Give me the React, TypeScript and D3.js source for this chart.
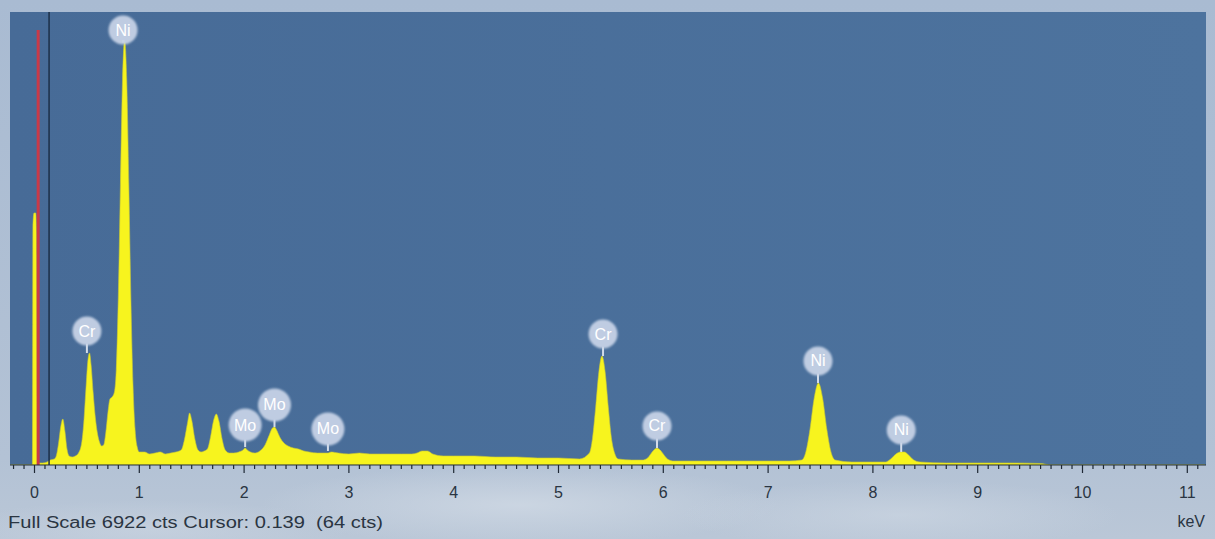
import React from "react";
import * as d3 from "d3";

// ---- data ----
const FULL_SCALE = 6922;
const CURSOR_KEV = 0.139;
const CURSOR_CTS = 64;
const NOISE_MARK_KEV = 0.035;

const energy = [
  -0.23, -0.02, -0.015, -0.005, 0.012, 0.02, 0.026, 0.04, 0.08, 0.12, 0.15, 0.19, 0.21, 0.23, 0.25, 0.27, 0.29, 0.31, 0.33, 0.36,
  0.39, 0.42, 0.45, 0.47, 0.49, 0.51, 0.525, 0.54, 0.56, 0.58, 0.6, 0.62, 0.64, 0.66, 0.68, 0.7, 0.72, 0.74, 0.76, 0.78,
  0.8, 0.82, 0.84, 0.86, 0.88, 0.9, 0.92, 0.94, 0.96, 0.98, 1.0, 1.05, 1.1, 1.15, 1.2, 1.25, 1.3, 1.35, 1.4, 1.43,
  1.46, 1.48, 1.5, 1.53, 1.56, 1.59, 1.62, 1.65, 1.68, 1.71, 1.735, 1.76, 1.79, 1.82, 1.86, 1.9, 1.95, 1.99, 2.01, 2.03,
  2.06, 2.1, 2.15, 2.2, 2.24, 2.27, 2.29, 2.31, 2.34, 2.38, 2.42, 2.47, 2.52, 2.57, 2.62, 2.7, 2.8, 2.83, 2.9, 3.0,
  3.1, 3.2, 3.3, 3.4, 3.5, 3.6, 3.65, 3.7, 3.75, 3.8, 3.9, 4.0, 4.2, 4.4, 4.6, 4.8, 5.0, 5.2, 5.295, 5.325,
  5.355, 5.385, 5.415, 5.445, 5.475, 5.505, 5.535, 5.57, 5.7, 5.8, 5.85, 5.88, 5.91, 5.94, 5.97, 6.0, 6.04, 6.1, 6.3, 6.6,
  6.9, 7.2, 7.32, 7.36, 7.4, 7.44, 7.48, 7.52, 7.56, 7.6, 7.64, 7.8, 8.0, 8.12, 8.17, 8.22, 8.26, 8.3, 8.34, 8.39,
  8.45, 8.7, 9.0, 9.3, 9.6, 9.7, 11.17,
];
const counts = [
  0, 0, 3667, 3851, 3851, 3514, 0, 31, 31, 46, 76, 92, 153, 336, 581, 703, 520, 244, 138, 122,
  138, 183, 336, 642, 1146, 1604, 1711, 1528, 1100, 733, 489, 351, 290, 306, 489, 795, 1008, 1039, 1100, 1452,
  2598, 4278, 5883, 6494, 5883, 4278, 2521, 1222, 535, 275, 199, 199, 168, 183, 199, 168, 183, 199, 229, 382,
  642, 795, 688, 397, 229, 199, 214, 244, 428, 688, 779, 672, 397, 229, 183, 183, 199, 229, 260, 229,
  199, 183, 214, 306, 458, 565, 581, 535, 428, 336, 290, 260, 244, 214, 199, 183, 183, 199, 183, 168,
  183, 168, 168, 168, 168, 168, 183, 214, 214, 168, 138, 138, 138, 122, 122, 107, 107, 92, 183, 413,
  886, 1421, 1665, 1421, 886, 413, 183, 92, 76, 76, 107, 168, 229, 260, 229, 168, 92, 61, 61, 61,
  61, 61, 76, 199, 550, 1024, 1253, 1024, 550, 199, 76, 46, 46, 46, 92, 168, 199, 199, 153, 76,
  46, 31, 31, 31, 23, 0, 0,
];

const labelElements = ["Ni", "Cr", "Mo", "Mo", "Mo", "Cr", "Cr", "Ni", "Ni"];
const labelEnergies = [0.845, 0.5, 2.01, 2.29, 2.8, 5.425, 5.94, 7.476, 8.27];
const labelCounts = [6494, 1711, 275, 581, 214, 1665, 260, 1253, 199];

const tickLabels = ["0", "1", "2", "3", "4", "5", "6", "7", "8", "9", "10", "11"];

// ---- layout ----
const W = 1215;
const H = 539;
const PLOT = { left: 10, right: 1206, top: 12, bottom: 465 };

export default function App() {
  const x = d3.scaleLinear().domain([0, 11]).range([34.5, 1187.3]);
  const y = d3.scaleLinear().domain([0, FULL_SCALE]).range([PLOT.bottom, PLOT.top]);

  const pts = energy.map((e, i) => ({ e, c: counts[i] }));
  const area = d3
    .area<{ e: number; c: number }>()
    .x((d) => x(d.e))
    .y0(PLOT.bottom)
    .y1((d) => y(d.c))
    .curve(d3.curveMonotoneX);

  const minor = d3.range(-2, 112).map((k) => k / 10);
  const font = "'Liberation Sans', Arial, sans-serif";

  return (
    <svg
      width={W}
      height={H}
      viewBox={`0 0 ${W} ${H}`}
      style={{ position: "absolute", left: 0, top: 0, display: "block" }}
    >
      <defs>
        <linearGradient id="outer" x1="0" y1="0" x2="0" y2="1">
          <stop offset="0" stopColor="#a9bbd2" />
          <stop offset="0.85" stopColor="#b3c2d5" />
          <stop offset="1" stopColor="#bac7d7" />
        </linearGradient>
        <radialGradient id="cloud" cx="0.5" cy="0.5" r="0.5">
          <stop offset="0" stopColor="#cdd7e3" stopOpacity="0.9" />
          <stop offset="1" stopColor="#cdd7e3" stopOpacity="0" />
        </radialGradient>
        <linearGradient id="plotbg" x1="0" y1="0" x2="1" y2="0">
          <stop offset="0" stopColor="#476b97" />
          <stop offset="1" stopColor="#4d739e" />
        </linearGradient>
        <clipPath id="plotclip">
          <rect x={PLOT.left} y={PLOT.top} width={PLOT.right - PLOT.left} height={PLOT.bottom - PLOT.top} />
        </clipPath>
        <filter id="soft" x="-30%" y="-30%" width="160%" height="160%">
          <feGaussianBlur stdDeviation="0.9" />
        </filter>
      </defs>

      <rect x={0} y={0} width={W} height={H} fill="url(#outer)" />
      <ellipse cx={520} cy={505} rx={260} ry={40} fill="url(#cloud)" />
      <ellipse cx={900} cy={515} rx={220} ry={35} fill="url(#cloud)" opacity={0.7} />
      <ellipse cx={150} cy={530} rx={200} ry={30} fill="url(#cloud)" opacity={0.6} />

      <rect
        x={PLOT.left}
        y={PLOT.top}
        width={PLOT.right - PLOT.left}
        height={PLOT.bottom - PLOT.top}
        fill="url(#plotbg)"
      />

      <g clipPath="url(#plotclip)">
        <path d={area(pts) || ""} fill="#f7f41e" stroke="#c9c834" strokeWidth={0.6} />
        <line
          x1={x(NOISE_MARK_KEV)}
          x2={x(NOISE_MARK_KEV)}
          y1={30}
          y2={PLOT.bottom}
          stroke="#c93a48"
          strokeWidth={3}
        />
        <line
          x1={x(CURSOR_KEV)}
          x2={x(CURSOR_KEV)}
          y1={PLOT.top}
          y2={PLOT.bottom}
          stroke="#1c2f48"
          strokeWidth={1.5}
        />
      </g>

      {/* peak labels */}
      {labelElements.map((el, i) => {
        const r = el === "Mo" ? 16.5 : 14.5;
        const px = x(labelEnergies[i]);
        const peakY = y(labelCounts[i]);
        const cy = Math.max(peakY - 22, 30);
        return (
          <g key={i}>
            <line x1={px} x2={px} y1={cy + r - 2} y2={peakY} stroke="#d3dcea" strokeWidth={2} />
            <circle cx={px} cy={cy} r={r} fill="#c6d2e6" opacity={0.95} filter="url(#soft)" />
            <text
              x={px}
              y={cy + 5.5}
              textAnchor="middle"
              fontFamily={font}
              fontSize={16}
              fill="#ffffff"
            >
              {el}
            </text>
          </g>
        );
      })}

      {/* axis */}
      <line x1={PLOT.left} x2={PLOT.right} y1={PLOT.bottom} y2={PLOT.bottom} stroke="#24303e" strokeWidth={1.2} />
      {minor.map((v) => {
        const major = Math.abs(v - Math.round(v)) < 1e-6;
        const px = x(v);
        if (px < PLOT.left || px > PLOT.right) return null;
        return (
          <line
            key={v}
            x1={px}
            x2={px}
            y1={PLOT.bottom}
            y2={PLOT.bottom + (major ? 8 : 4)}
            stroke="#1e2834"
            strokeWidth={1.2}
          />
        );
      })}
      {tickLabels.map((t, i) => (
        <text
          key={t}
          x={x(i)}
          y={498}
          textAnchor="middle"
          fontFamily={font}
          fontSize={16}
          fill="#2a3542"
        >
          {t}
        </text>
      ))}
      <text x={8} y={528} fontFamily={font} fontSize={16} fill="#2a3542" textLength={375} lengthAdjust="spacingAndGlyphs">
        {`Full Scale ${FULL_SCALE} cts Cursor: ${CURSOR_KEV}\u00a0\u00a0(${CURSOR_CTS} cts)`}
      </text>
      <text x={1205} y={527} textAnchor="end" fontFamily={font} fontSize={16} fill="#2a3542">
        keV
      </text>
    </svg>
  );
}
